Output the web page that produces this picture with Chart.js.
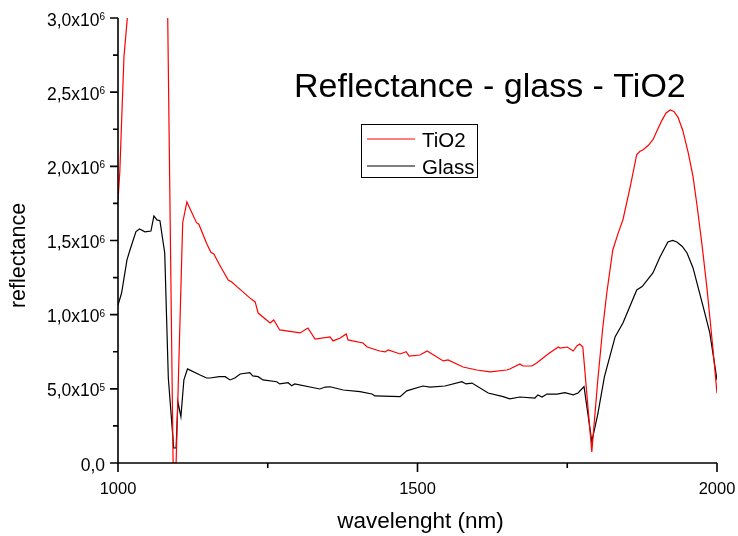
<!DOCTYPE html>
<html>
<head>
<meta charset="utf-8">
<title>Reflectance - glass - TiO2</title>
<script src="https://cdn.jsdelivr.net/npm/chart.js@4/dist/chart.umd.min.js"></script>
<style>
  html, body { margin: 0; padding: 0; background: #ffffff; }
  #wrap { width: 738px; height: 536px; }
</style>
</head>
<body>
<div id="wrap"><canvas id="c" width="738" height="536"></canvas></div>
<script>
// Reflectance spectra, wavelength in nm
const tio2Wavelength = [1000, 1003, 1006, 1010, 1016, 1025, 1040, 1055, 1068, 1078, 1092, 1097, 1108, 1115, 1131, 1135, 1148, 1155, 1160, 1169, 1184, 1190, 1199, 1220, 1229, 1234, 1254, 1260, 1270, 1304, 1317, 1329, 1354, 1359, 1371, 1381, 1384, 1409, 1416, 1437, 1446, 1451, 1471, 1481, 1486, 1504, 1516, 1543, 1551, 1576, 1599, 1621, 1649, 1654, 1671, 1676, 1691, 1699, 1718, 1735, 1738, 1750, 1760, 1766, 1771, 1776, 1791, 1801, 1809, 1816, 1826, 1835, 1843, 1855, 1866, 1871, 1876, 1885, 1893, 1901, 1908, 1915, 1922, 1928, 1935, 1943, 1952, 1960, 1967, 1975, 1983, 1993, 2000];
const tio2Reflectance = [1.77e6, 1.96e6, 2.30e6, 2.74e6, 3.02e6, 3.60e6, 4.30e6, 4.70e6, 4.80e6, 4.67e6, 0, 0, 1.62e6, 1.76e6, 1.62e6, 1.61e6, 1.48e6, 1.42e6, 1.41e6, 1.34e6, 1.234e6, 1.22e6, 1.187e6, 1.113e6, 1.086e6, 1.011e6, 0.944e6, 0.964e6, 0.897e6, 0.877e6, 0.910e6, 0.836e6, 0.850e6, 0.823e6, 0.843e6, 0.870e6, 0.830e6, 0.809e6, 0.782e6, 0.755e6, 0.749e6, 0.762e6, 0.735e6, 0.750e6, 0.720e6, 0.728e6, 0.755e6, 0.688e6, 0.695e6, 0.647e6, 0.627e6, 0.614e6, 0.627e6, 0.634e6, 0.668e6, 0.654e6, 0.654e6, 0.674e6, 0.735e6, 0.782e6, 0.775e6, 0.782e6, 0.755e6, 0.789e6, 0.802e6, 0.782e6, 0.074e6, 0.56e6, 0.90e6, 1.146e6, 1.436e6, 1.55e6, 1.64e6, 1.86e6, 2.08e6, 2.10e6, 2.11e6, 2.14e6, 2.18e6, 2.25e6, 2.31e6, 2.36e6, 2.38e6, 2.37e6, 2.33e6, 2.24e6, 2.09e6, 1.93e6, 1.726e6, 1.47e6, 1.187e6, 0.78e6, 0.47e6];

const glassWavelength = [1000, 1006, 1015, 1020, 1030, 1036, 1045, 1055, 1060, 1065, 1070, 1078, 1084, 1093, 1097, 1100, 1105, 1110, 1116, 1137, 1148, 1154, 1169, 1179, 1187, 1195, 1204, 1220, 1225, 1234, 1242, 1265, 1270, 1284, 1290, 1295, 1337, 1346, 1354, 1376, 1404, 1424, 1429, 1471, 1482, 1509, 1521, 1546, 1574, 1581, 1591, 1618, 1643, 1654, 1671, 1696, 1701, 1708, 1716, 1733, 1746, 1760, 1768, 1778, 1791, 1801, 1812, 1830, 1843, 1866, 1875, 1893, 1905, 1918, 1926, 1933, 1942, 1950, 1960, 1977, 1988, 2000];
const glassReflectance = [1.065e6, 1.146e6, 1.369e6, 1.436e6, 1.56e6, 1.578e6, 1.558e6, 1.564e6, 1.666e6, 1.639e6, 1.634e6, 1.416e6, 0.573e6, 0.101e6, 0.101e6, 0.413e6, 0.312e6, 0.56e6, 0.634e6, 0.593e6, 0.573e6, 0.573e6, 0.582e6, 0.582e6, 0.56e6, 0.573e6, 0.60e6, 0.609e6, 0.587e6, 0.582e6, 0.56e6, 0.548e6, 0.533e6, 0.541e6, 0.521e6, 0.533e6, 0.499e6, 0.512e6, 0.514e6, 0.492e6, 0.481e6, 0.465e6, 0.452e6, 0.447e6, 0.486e6, 0.519e6, 0.512e6, 0.519e6, 0.548e6, 0.533e6, 0.539e6, 0.472e6, 0.447e6, 0.432e6, 0.445e6, 0.438e6, 0.459e6, 0.445e6, 0.465e6, 0.465e6, 0.474e6, 0.459e6, 0.472e6, 0.515e6, 0.144e6, 0.33e6, 0.58e6, 0.852e6, 0.944e6, 1.167e6, 1.189e6, 1.281e6, 1.39e6, 1.49e6, 1.50e6, 1.49e6, 1.46e6, 1.416e6, 1.315e6, 1.052e6, 0.877e6, 0.56e6];

// Axis ticks and their labels
const xMajorTicks = [1000, 1500, 2000];
const xMinorTicks = [1250, 1750];
const xTickLabels = ['1000', '1500', '2000'];
const yMajorTicks = [0, 0.5e6, 1.0e6, 1.5e6, 2.0e6, 2.5e6, 3.0e6];
const yMinorTicks = [0.25e6, 0.75e6, 1.25e6, 1.75e6, 2.25e6, 2.75e6];
const yTickMantissa = ['0,0', '5,0x10', '1,0x10', '1,5x10', '2,0x10', '2,5x10', '3,0x10'];
const yTickExponent = ['', '5', '6', '6', '6', '6', '6'];

const seriesNames = ['TiO2', 'Glass'];
const seriesColors = ['#ff0000', '#000000'];
const chartTitle = 'Reflectance - glass - TiO2';
const xTitle = 'wavelenght (nm)';
const yTitle = 'reflectance';

const FONT = '"Liberation Sans", Arial, Helvetica, sans-serif';

// Axes, tick marks, labels, title and legend box
const decorations = {
  id: 'decorations',
  afterDraw(chart) {
    const { ctx, chartArea: a, scales: { x, y } } = chart;
    ctx.save();
    ctx.strokeStyle = '#000';
    ctx.fillStyle = '#000';
    ctx.lineWidth = 1.6;

    // axis lines
    ctx.beginPath();
    ctx.moveTo(a.left, a.top);
    ctx.lineTo(a.left, a.bottom);
    ctx.moveTo(a.left - 0.8, a.bottom);
    ctx.lineTo(a.right, a.bottom);
    ctx.stroke();

    // tick marks
    ctx.beginPath();
    yMajorTicks.forEach(v => { const p = y.getPixelForValue(v); ctx.moveTo(a.left, p); ctx.lineTo(a.left - 8, p); });
    yMinorTicks.forEach(v => { const p = y.getPixelForValue(v); ctx.moveTo(a.left, p); ctx.lineTo(a.left - 5, p); });
    xMajorTicks.forEach(v => { const p = x.getPixelForValue(v); ctx.moveTo(p, a.bottom); ctx.lineTo(p, a.bottom + 9); });
    xMinorTicks.forEach(v => { const p = x.getPixelForValue(v); ctx.moveTo(p, a.bottom); ctx.lineTo(p, a.bottom + 5); });
    ctx.stroke();

    // x tick labels
    ctx.font = '16.5px ' + FONT;
    ctx.textAlign = 'center';
    ctx.textBaseline = 'alphabetic';
    xMajorTicks.forEach((v, i) => ctx.fillText(xTickLabels[i], x.getPixelForValue(v), a.bottom + 31));

    // y tick labels with exponent
    const right = a.left - 13;
    ctx.textAlign = 'left';
    yMajorTicks.forEach((v, i) => {
      const p = y.getPixelForValue(v);
      ctx.font = '10px ' + FONT;
      const supW = yTickExponent[i] ? ctx.measureText(yTickExponent[i]).width : 0;
      ctx.font = '17.5px ' + FONT;
      const mainW = ctx.measureText(yTickMantissa[i]).width;
      ctx.fillText(yTickMantissa[i], right - supW - mainW, p + 7.5);
      if (yTickExponent[i]) {
        ctx.font = '10px ' + FONT;
        ctx.fillText(yTickExponent[i], right - supW, p + 2);
      }
    });

    // axis titles
    ctx.font = '22.5px ' + FONT;
    ctx.textAlign = 'center';
    ctx.fillText(xTitle, (a.left + a.right) / 2 + 3, 528);
    ctx.save();
    ctx.translate(25, 255.5);
    ctx.rotate(-Math.PI / 2);
    ctx.font = '21.5px ' + FONT;
    ctx.fillText(yTitle, 0, 0);
    ctx.restore();

    // chart title
    ctx.font = '34px ' + FONT;
    ctx.textAlign = 'left';
    ctx.fillText(chartTitle, 294, 97);

    // legend
    ctx.lineWidth = 1;
    ctx.strokeRect(361.5, 124.5, 116, 53);
    const rows = [139, 166];
    chart.data.datasets.forEach((ds, i) => {
      ctx.strokeStyle = ds.borderColor;
      ctx.lineWidth = 1.2;
      ctx.beginPath();
      ctx.moveTo(367, rows[i]);
      ctx.lineTo(415, rows[i]);
      ctx.stroke();
      ctx.fillStyle = '#000';
      ctx.font = '20.5px ' + FONT;
      ctx.fillText(ds.label, 422, rows[i] + 7.5);
    });
    ctx.restore();
  }
};

const toPoints = (xs, ys) => xs.map((w, i) => ({ x: w, y: ys[i] }));

new Chart(document.getElementById('c'), {
  type: 'line',
  data: {
    datasets: [
      { label: seriesNames[0], data: toPoints(tio2Wavelength, tio2Reflectance), borderColor: seriesColors[0], borderWidth: 1.2, pointRadius: 0, tension: 0, fill: false },
      { label: seriesNames[1], data: toPoints(glassWavelength, glassReflectance), borderColor: seriesColors[1], borderWidth: 1.2, pointRadius: 0, tension: 0, fill: false }
    ]
  },
  options: {
    responsive: false,
    devicePixelRatio: 1,
    animation: false,
    events: [],
    layout: { padding: { top: 18, right: 21, left: 0, bottom: 0 } },
    plugins: { legend: { display: false }, tooltip: { enabled: false }, title: { display: false } },
    scales: {
      x: {
        type: 'linear', min: 1000, max: 2000,
        ticks: { display: false },
        grid: { display: false, drawTicks: false },
        border: { display: false },
        afterFit: s => { s.height = 73; }
      },
      y: {
        type: 'linear', min: 0, max: 3e6,
        ticks: { display: false },
        grid: { display: false, drawTicks: false },
        border: { display: false },
        afterFit: s => { s.width = 118; }
      }
    }
  },
  plugins: [decorations]
});
</script>
</body>
</html>
